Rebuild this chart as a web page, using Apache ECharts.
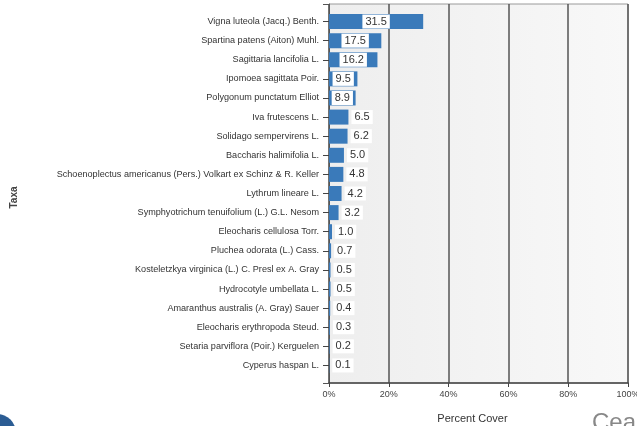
<!DOCTYPE html>
<html>
<head>
<meta charset="utf-8">
<script src="https://cdn.jsdelivr.net/npm/echarts@6/dist/echarts.min.js"></script>
<style>html,body{margin:0;padding:0;background:#fff;}#c{width:637px;height:426px;}</style>
</head>
<body>
<div id="c"></div>
<script>
const taxa = [
  "Vigna luteola (Jacq.) Benth.",
  "Spartina patens (Aiton) Muhl.",
  "Sagittaria lancifolia L.",
  "Ipomoea sagittata Poir.",
  "Polygonum punctatum Elliot",
  "Iva frutescens L.",
  "Solidago sempervirens L.",
  "Baccharis halimifolia L.",
  "Schoenoplectus americanus (Pers.) Volkart ex Schinz & R. Keller",
  "Lythrum lineare L.",
  "Symphyotrichum tenuifolium (L.) G.L. Nesom",
  "Eleocharis cellulosa Torr.",
  "Pluchea odorata (L.) Cass.",
  "Kosteletzkya virginica (L.) C. Presl ex A. Gray",
  "Hydrocotyle umbellata L.",
  "Amaranthus australis (A. Gray) Sauer",
  "Eleocharis erythropoda Steud.",
  "Setaria parviflora (Poir.) Kerguelen",
  "Cyperus haspan L."
];
const cover = [31.5, 17.5, 16.2, 9.5, 8.9, 6.5, 6.2, 5.0, 4.8, 4.2, 3.2, 1.0, 0.7, 0.5, 0.5, 0.4, 0.3, 0.2, 0.1];
const xTicks = [0, 20, 40, 60, 80, 100];

const FONT = '"Liberation Sans", Arial, sans-serif';
const chart = echarts.init(document.getElementById('c'), null, {renderer: 'canvas'});

const barData = cover.map(v => {
  const inside = v >= 8;
  return {
    value: v,
    label: {
      position: inside ? 'inside' : 'right',
      distance: 3
    }
  };
});

chart.setOption({
  animation: false,
  grid: [
    {left: 329, top: 4, width: 299, height: 379, show: true, containLabel: false, outerBoundsMode: 'none',
     backgroundColor: new echarts.graphic.LinearGradient(0, 0, 1, 0, [
       {offset: 0, color: '#eeeeee'}, {offset: 1, color: '#f8f8f8'}]),
     borderColor: '#9a9a9a', borderWidth: 1},
    {left: 329, top: 12, width: 299, height: 363, containLabel: false, outerBoundsMode: 'none'}
  ],
  xAxis: [
    {gridIndex: 0, type: 'value', min: 0, max: 100, interval: 20,
     name: 'Percent Cover', nameLocation: 'middle', nameGap: 30,
     nameTextStyle: {fontFamily: FONT, fontSize: 11, color: '#333', padding: [0, 12, 0, 0]},
     axisLine: {show: true, lineStyle: {color: '#444', width: 1.5}},
     axisTick: {show: true, length: 4, lineStyle: {color: '#444'}},
     axisLabel: {formatter: v => xTicks.includes(v) ? v + '%' : '', fontFamily: FONT, fontSize: 9, color: '#444', margin: 7},
     splitLine: {show: true, lineStyle: {color: '#555', width: 1.5}}},
    {gridIndex: 1, type: 'value', min: 0, max: 100, show: false, splitLine: {show: false}}
  ],
  yAxis: [
    {gridIndex: 0, type: 'value', min: 0, max: 1, interval: 1,
     name: 'Taxa', nameLocation: 'middle', nameGap: 310, nameRotate: 90,
     nameTextStyle: {fontFamily: FONT, fontSize: 10, fontWeight: 'bold', color: '#444', padding: [0, 8, 0, 0]},
     axisLine: {show: true, lineStyle: {color: '#555', width: 1}},
     axisTick: {show: true, length: 6, lineStyle: {color: '#555'}},
     axisLabel: {show: false}, splitLine: {show: false}},
    {gridIndex: 1, type: 'category', data: taxa, inverse: true,
     axisLine: {show: false},
     axisTick: {show: true, alignWithLabel: true, length: 6, lineStyle: {color: '#444'}},
     axisLabel: {fontFamily: FONT, fontSize: 9.1, color: '#333', margin: 10, interval: 0},
     splitLine: {show: false}}
  ],
  series: [{
    type: 'bar', xAxisIndex: 1, yAxisIndex: 1,
    data: barData, barWidth: 15,
    itemStyle: {color: '#3a7aba'},
    label: {show: true, formatter: p => p.value.toFixed(1),
      fontFamily: FONT, fontSize: 11, color: '#333',
      backgroundColor: '#ffffff', padding: [2, 3, 1, 3]}
  }],
  graphic: [
    {type: 'circle', shape: {cx: -3, cy: 433, r: 19}, style: {fill: '#2b5c93'}},
    {type: 'text', left: 592, top: 411, style: {text: 'Cea', font: '24px ' + FONT, fill: '#888'}}
  ]
});
</script>
</body>
</html>
